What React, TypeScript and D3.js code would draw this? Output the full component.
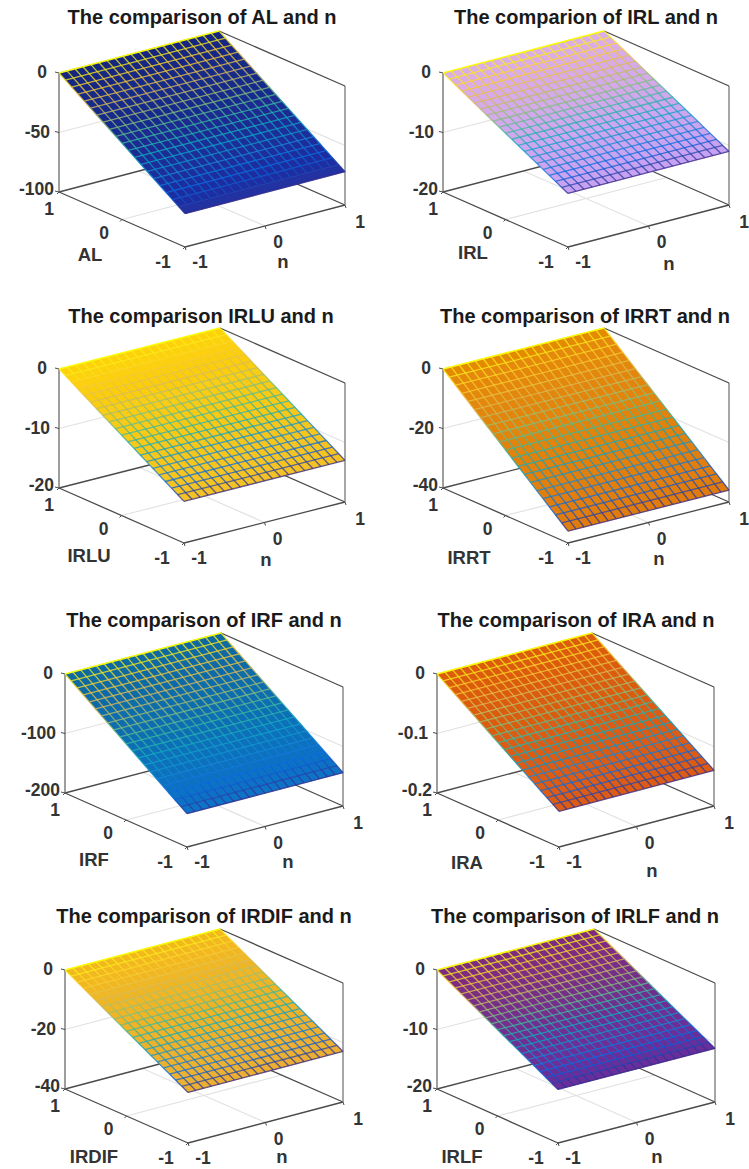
import React, { useEffect, useRef } from 'react';
import * as d3 from 'd3';

const width = 749;
const height = 1169;

// grid of the surface, shared by both horizontal axes
const gridN = [-1, -0.9, -0.8, -0.7, -0.6, -0.5, -0.4, -0.3, -0.2, -0.1, 0, 0.1, 0.2, 0.3, 0.4, 0.5, 0.6, 0.7, 0.8, 0.9, 1];
const gridY = [1, 0.9, 0.8, 0.7, 0.6, 0.5, 0.4, 0.3, 0.2, 0.1, 0, -0.1, -0.2, -0.3, -0.4, -0.5, -0.6, -0.7, -0.8, -0.9, -1];
const axisTicks = [-1, 0, 1];

// surface height for each row of gridY
const zAL = [0, -3.6, -7.2, -10.8, -14.4, -18, -21.6, -25.2, -28.8, -32.4, -36, -39.6, -43.2, -46.8, -50.4, -54, -57.6, -61.2, -64.8, -68.4, -72];
const zIRL = [0, -0.55, -1.1, -1.65, -2.2, -2.75, -3.3, -3.85, -4.4, -4.95, -5.5, -6.05, -6.6, -7.15, -7.7, -8.25, -8.8, -9.35, -9.9, -10.45, -11];
const zIRLU = [0, -0.65, -1.3, -1.95, -2.6, -3.25, -3.9, -4.55, -5.2, -5.85, -6.5, -7.15, -7.8, -8.45, -9.1, -9.75, -10.4, -11.05, -11.7, -12.35, -13];
const zIRRT = [0, -1.8, -3.6, -5.4, -7.2, -9, -10.8, -12.6, -14.4, -16.2, -18, -19.8, -21.6, -23.4, -25.2, -27, -28.8, -30.6, -32.4, -34.2, -36];
const zIRF = [0, -7.2, -14.4, -21.6, -28.8, -36, -43.2, -50.4, -57.6, -64.8, -72, -79.2, -86.4, -93.6, -100.8, -108, -115.2, -122.4, -129.6, -136.8, -144];
const zIRA = [0, -0.007, -0.014, -0.021, -0.028, -0.035, -0.042, -0.049, -0.056, -0.063, -0.07, -0.077, -0.084, -0.091, -0.098, -0.105, -0.112, -0.119, -0.126, -0.133, -0.14];
const zIRDIF = [0, -1.15, -2.3, -3.45, -4.6, -5.75, -6.9, -8.05, -9.2, -10.35, -11.5, -12.65, -13.8, -14.95, -16.1, -17.25, -18.4, -19.55, -20.7, -21.85, -23];
const zIRLF = [0, -0.55, -1.1, -1.65, -2.2, -2.75, -3.3, -3.85, -4.4, -4.95, -5.5, -6.05, -6.6, -7.15, -7.7, -8.25, -8.8, -9.35, -9.9, -10.45, -11];

const titles = [
  'The comparison of AL and n',
  'The comparion of IRL and n',
  'The comparison IRLU and n',
  'The comparison of IRRT and n',
  'The comparison of IRF and n',
  'The comparison of IRA and n',
  'The comparison of IRDIF and n',
  'The comparison of IRLF and n',
];
const yLabels = ['AL', 'IRL', 'IRLU', 'IRRT', 'IRF', 'IRA', 'IRDIF', 'IRLF'];
const zSeries = [zAL, zIRL, zIRLU, zIRRT, zIRF, zIRA, zIRDIF, zIRLF];
const zTicks = [
  [-100, -50, 0],
  [-20, -10, 0],
  [-20, -10, 0],
  [-40, -20, 0],
  [-200, -100, 0],
  [-0.2, -0.1, 0],
  [-40, -20, 0],
  [-20, -10, 0],
];

// face colour at the top and at the bottom of each surface
const faceColors = [
  ['#14277f', '#2030a4'],
  ['#dcaee6', '#c7a2f2'],
  ['#fdd208', '#f4c226'],
  ['#e48a06', '#e07c10'],
  ['#0f699f', '#1173c8'],
  ['#dc5c0c', '#dc5c18'],
  ['#f2b91e', '#ecaf32'],
  ['#7e2c80', '#682f9c'],
];

// layout of each panel: left, front, right corners of the floor, box height, title and axis label spots
const panels = [
  { lx: 59, ly: 192, fx: 185, fy: 247, rx: 345, ry: 205, h: 119, title: [202, 17], yl: [90, 254], nl: [283, 261] },
  { lx: 443, ly: 192, fx: 568, fy: 247, rx: 729, ry: 205, h: 119, title: [586, 17], yl: [473, 252], nl: [669, 263] },
  { lx: 59, ly: 488, fx: 184, fy: 543, rx: 345, ry: 502, h: 119, title: [201, 316], yl: [89, 555], nl: [266, 559] },
  { lx: 443, ly: 488, fx: 568, fy: 543, rx: 729, ry: 502, h: 119, title: [585, 316], yl: [469, 557], nl: [659, 558] },
  { lx: 65, ly: 793, fx: 187, fy: 847, rx: 343, ry: 806, h: 119, title: [204, 620], yl: [94, 859], nl: [288, 861] },
  { lx: 437, ly: 793, fx: 559, fy: 847, rx: 714, ry: 806, h: 119, title: [576, 620], yl: [467, 862], nl: [652, 870] },
  { lx: 65, ly: 1089, fx: 188, fy: 1143, rx: 343, ry: 1102, h: 119, title: [204, 916], yl: [94, 1156], nl: [282, 1156] },
  { lx: 437, ly: 1089, fx: 558, fy: 1143, rx: 715, ry: 1102, h: 119, title: [575, 916], yl: [462, 1156], nl: [657, 1156] },
];

const parula = ['#352a87', '#0363e1', '#1485d4', '#06a7c6', '#38b99e', '#92bf73', '#d9ba56', '#fcce2e', '#f9fb0e'];
const fontFamily = '"Liberation Sans", Arial, sans-serif';

function drawPanel(svg: any, idx: number) {
  const p = panels[idx];
  const zs = zSeries[idx];
  const ticks = zTicks[idx];

  const nScale = d3.scaleLinear().domain([-1, 1]).range([0, 1]);
  const yScale = d3.scaleLinear().domain([-1, 1]).range([0, 1]);
  const zScale = d3.scaleLinear().domain(d3.extent(ticks) as number[]).range([0, p.h]);

  const project = (n: number, y: number, z: number): [number, number] => {
    const a = nScale(n);
    const b = yScale(y);
    return [
      p.fx + a * (p.rx - p.fx) + b * (p.lx - p.fx),
      p.fy + a * (p.ry - p.fy) + b * (p.ly - p.fy) - zScale(z),
    ];
  };

  const zMin = ticks[0];
  const zMax = ticks[2];
  const line = d3.line();
  const g = svg.append('g');

  const seg = (a: [number, number], b: [number, number], color: string, w: number) => {
    g.append('path')
      .attr('d', line([a, b]))
      .attr('fill', 'none')
      .attr('stroke', color)
      .attr('stroke-width', w);
  };

  // back walls and floor grid lines first
  const gridColor = '#e2e2e2';
  const midZ = ticks[1];
  seg(project(-1, 1, midZ), project(1, 1, midZ), gridColor, 1.2);
  seg(project(1, 1, midZ), project(1, -1, midZ), gridColor, 1.2);
  seg(project(-1, 0, zMin), project(1, 0, zMin), gridColor, 1.2);
  seg(project(0, -1, zMin), project(0, 1, zMin), gridColor, 1.2);
  seg(project(1, 1, zMin), project(1, 1, zMax), '#d4d4d4', 1.2);

  const axisColor = '#4a4a4a';
  seg(project(-1, 1, zMin), project(1, 1, zMin), axisColor, 1.3);
  seg(project(1, 1, zMin), project(1, -1, zMin), axisColor, 1.3);
  seg(project(-1, 1, zMin), project(-1, -1, zMin), axisColor, 1.3);
  seg(project(-1, -1, zMin), project(1, -1, zMin), axisColor, 1.3);
  seg(project(-1, 1, zMin), project(-1, 1, zMax), '#6a6a6a', 1.3);
  seg(project(1, -1, zMin), project(1, -1, zMax), '#777', 1.3);
  seg(project(1, 1, zMax), project(1, -1, zMax), axisColor, 1.3);

  // tick marks
  ticks.forEach((t) => {
    const [x, y] = project(-1, 1, t);
    seg([x, y], [x - 4, y - 1], axisColor, 1);
  });
  axisTicks.forEach((t) => {
    const [x1, y1] = project(t, -1, zMin);
    seg([x1, y1], [x1 + 1, y1 + 3], axisColor, 1);
    const [x2, y2] = project(-1, t, zMin);
    seg([x2, y2], [x2 - 2, y2 + 2], axisColor, 1);
  });

  // the surface: filled cells, then the mesh coloured by height
  const face = d3.scaleLinear<string>()
    .domain([zs[0], zs[zs.length - 1]])
    .range(faceColors[idx]);
  const edge = d3.scaleLinear<string>()
    .domain(d3.range(parula.length).map((i) => zs[zs.length - 1] + (i / (parula.length - 1)) * (zs[0] - zs[zs.length - 1])))
    .range(parula)
    .interpolate(d3.interpolateRgb);

  const surf = g.append('g').attr('filter', 'url(#soft)');
  for (let i = 0; i < gridY.length - 1; i++) {
    const zTop = zs[i];
    const zBot = zs[i + 1];
    const corners = [
      project(gridN[0], gridY[i], zTop),
      project(gridN[gridN.length - 1], gridY[i], zTop),
      project(gridN[gridN.length - 1], gridY[i + 1], zBot),
      project(gridN[0], gridY[i + 1], zBot),
    ];
    surf.append('polygon')
      .attr('points', corners.map((c) => c.join(',')).join(' '))
      .attr('fill', face((zTop + zBot) / 2))
      .attr('stroke', face((zTop + zBot) / 2))
      .attr('stroke-width', 0.5);
  }
  gridN.forEach((n) => {
    for (let i = 0; i < gridY.length - 1; i++) {
      surf.append('path')
        .attr('d', line([project(n, gridY[i], zs[i]), project(n, gridY[i + 1], zs[i + 1])]))
        .attr('stroke', edge((zs[i] + zs[i + 1]) / 2))
        .attr('stroke-width', 1.3)
        .attr('stroke-opacity', 0.75)
        .attr('fill', 'none');
    }
  });
  gridY.forEach((y, i) => {
    surf.append('path')
      .attr('d', line([project(-1, y, zs[i]), project(1, y, zs[i])]))
      .attr('stroke', edge(zs[i]))
      .attr('stroke-width', i === 0 ? 1.6 : 1.3)
      .attr('stroke-opacity', i === 0 ? 1 : 0.75)
      .attr('fill', 'none');
  });

  // text
  const text = (x: number, y: number, s: string | number, size: number, anchor: string, color: string) => {
    g.append('text')
      .attr('x', x)
      .attr('y', y)
      .attr('dy', '0.36em')
      .attr('text-anchor', anchor)
      .attr('font-family', fontFamily)
      .attr('font-weight', 'bold')
      .attr('font-size', size)
      .attr('fill', color)
      .text(s);
  };

  const tickColor = '#333';
  const zDx = [-5, -9, -12];
  const zDy = [-3, -1, -1];
  ticks.forEach((t, i) => {
    const [x, y] = project(-1, 1, t);
    text(x + zDx[i], y + zDy[i], t, 17.5, 'end', tickColor);
  });
  axisTicks.forEach((t, i) => {
    const [xn, yn] = project(t, -1, zMin);
    text(xn + [15, 13, 15][i], yn + [15, 16, 17][i], t, 17.5, 'middle', tickColor);
    const [xy, yy] = project(-1, t, zMin);
    text(xy + [-22, -18, -10][i], yy + [15, 13, 17][i], t, 17.5, 'middle', tickColor);
  });
  text(p.yl[0], p.yl[1], yLabels[idx], 18.5, 'middle', tickColor);
  text(p.nl[0], p.nl[1], 'n', 18.5, 'middle', tickColor);
  text(p.title[0], p.title[1], titles[idx], 20, 'middle', '#1a1a1a');
}

export default function App() {
  const ref = useRef<SVGSVGElement | null>(null);

  useEffect(() => {
    const svg = d3.select(ref.current);
    svg.selectAll('*').remove();
    svg.append('defs')
      .append('filter')
      .attr('id', 'soft')
      .append('feGaussianBlur')
      .attr('stdDeviation', 0.35);
    svg.append('rect').attr('width', width).attr('height', height).attr('fill', '#fff');
    panels.forEach((_, i) => drawPanel(svg, i));
  }, []);

  return (
    <svg
      ref={ref}
      width={width}
      height={height}
      style={{ position: 'absolute', left: 0, top: 0 }}
    />
  );
}
